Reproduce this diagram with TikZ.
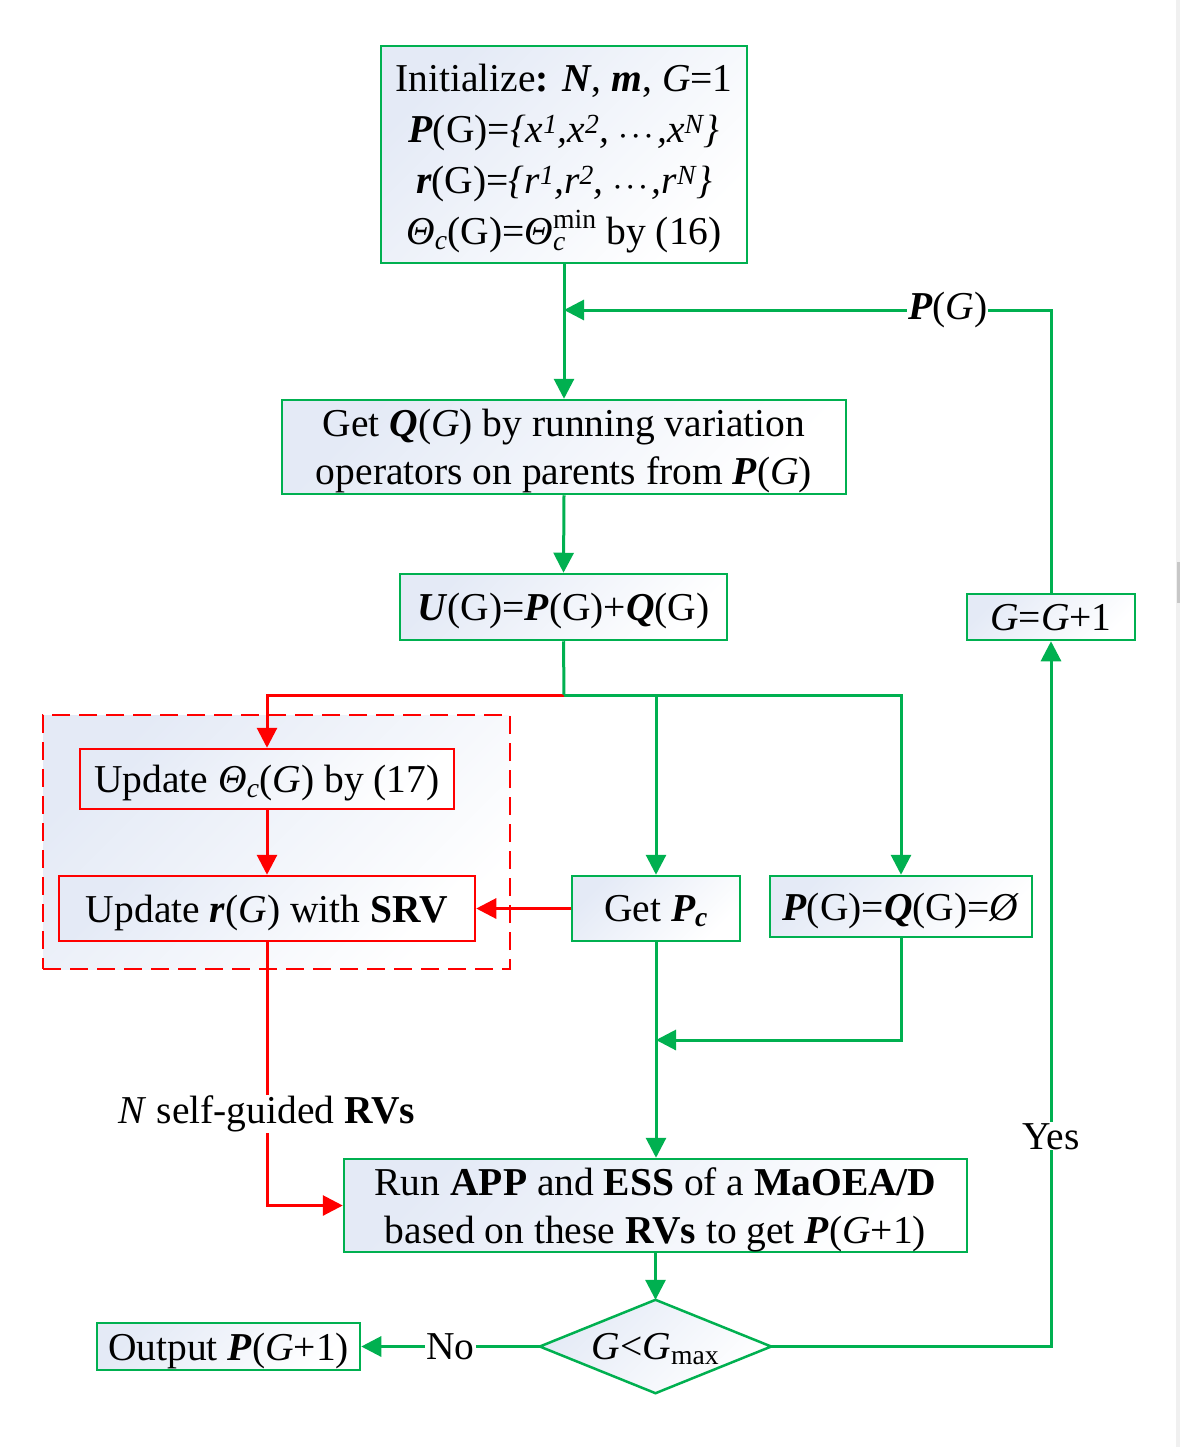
\documentclass[tikz,border=0pt]{standalone}
\usepackage{amsmath}
\usepackage{fontspec}
\setmainfont{Liberation Serif}
\usetikzlibrary{arrows.meta,shapes.geometric}
\definecolor{grn}{RGB}{0,176,80}
\definecolor{rd}{RGB}{255,0,0}
\definecolor{shb}{RGB}{228,234,246}
\newcommand{\bi}[1]{\textbf{\textit{#1}}}
\begin{document}
\begin{tikzpicture}[x=1pt,y=-1pt,
  font=\fontsize{39.5}{48}\selectfont,
  boxbase/.style={line width=2.5pt, shade, top color=shb, bottom color=white, shading angle=45, inner sep=0pt, align=center, text depth=0pt},
  gbox/.style={boxbase, draw=grn},
  rbox/.style={boxbase, draw=rd},
  garrow/.style={draw=grn, line width=3pt, -{Triangle[length=20pt,width=20pt]}},
  rarrow/.style={draw=rd, line width=3pt, -{Triangle[length=20pt,width=20pt]}},
  gline/.style={draw=grn, line width=3pt},
  lbl/.style={fill=white, inner sep=1pt}]
\useasboundingbox (0,0) rectangle (1180,1447);
\fill[white] (0,0) rectangle (1180,1447);
\fill[black!6] (1176,0) rectangle (1180,1447);
\fill[black!22] (1177,562) rectangle (1180,603);

% dashed group
\node[boxbase, draw=rd, dash pattern=on 18pt off 9pt, minimum width=467pt, minimum height=254pt] (grp) at (276.5,842) {};

% nodes
\node[gbox, minimum width=366pt, minimum height=217pt, font=\fontsize{39.5}{51}\selectfont] (init) at (564,154.5)
 {Initialize\textbf{:} \bi{N}, \bi{m}, \textit{G}=1\\
  \bi{P}(G)=\textit{\{x\textsuperscript{1},x\textsuperscript{2}, }{\boldmath$\cdots$}\textit{,x\textsuperscript{N}\}}\\
  \bi{r}(G)=\textit{\{r\textsuperscript{1},r\textsuperscript{2}, }{\boldmath$\cdots$}\textit{,r\textsuperscript{N}\}}\\
  \textit{Θ\textsubscript{c}}(G)=$\textit{Θ}^{\text{min}}_{\textit{c}}$ by (16)};
\node[gbox, minimum width=564pt, minimum height=94pt] (getq) at (564,447)
 {Get \bi{Q}(\textit{G}) by running variation\\ operators on parents from \bi{P}(\textit{G})};
\node[gbox, minimum width=327pt, minimum height=66pt] (ug) at (563.5,607)
 {\bi{U}(G)=\bi{P}(G)+\bi{Q}(G)};
\node[rbox, minimum width=374pt, minimum height=60pt] (upd1) at (267,779)
 {Update \textit{Θ\textsubscript{c}}(\textit{G}) by (17)};
\node[rbox, minimum width=416pt, minimum height=65pt] (updr) at (267,908.5)
 {Update \bi{r}(\textit{G}) with \textbf{SRV}};
\node[gbox, minimum width=168pt, minimum height=65pt] (getpc) at (656,908.5)
 {Get \bi{P\textsubscript{c}}};
\node[gbox, minimum width=262pt, minimum height=61pt] (pq) at (901,906.5)
 {\bi{P}(G)=\bi{Q}(G)=\textit{Ø}};
\node[gbox, minimum width=168pt, minimum height=46pt] (gg) at (1051,617)
 {\textit{G}=\textit{G}+1};
\node[gbox, minimum width=623pt, minimum height=93pt] (run) at (655.5,1205.5)
 {Run \textbf{APP} and \textbf{ESS} of a \textbf{MaOEA/D}\\ based on these \textbf{RVs} to get \bi{P}(\textit{G}+1)};
\node[inner sep=0pt, minimum width=231pt, minimum height=93pt] (dia) at (655.5,1346.5) {};
\path[boxbase, draw=grn] (dia.north) -- (dia.east) -- (dia.south) -- (dia.west) -- cycle;
\node[text depth=0pt] at (dia.center) {\textit{G}<\textit{G}\textsubscript{max}};
\node[gbox, minimum width=263pt, minimum height=47pt] (out) at (228.5,1346.5)
 {Output \bi{P}(\textit{G}+1)};

% connectors
\coordinate (split) at (564,695);
\coordinate (loop) at (564,310);
\coordinate (join) at (656,1040);
\draw[garrow] (init.south) -- (getq.north);
\draw[garrow] (getq.south) -- (ug.north);
\draw[rarrow] (split) -| (upd1.north);
\draw[gline] (ug.south) -- (split);
\draw[garrow] (split) -| (pq.north);
\draw[garrow] (getpc.north |- split) -- (getpc.north);
\draw[rarrow] (upd1.south) -- (updr.north);
\draw[rarrow] (getpc.west) -- (updr.east);
\draw[rarrow] (updr.south) |- (run.west) node[pos=0.326, lbl] {\textit{N} self-guided \textbf{RVs}};
\draw[garrow] (getpc.south) -- (getpc.south |- run.north);
\draw[garrow] (pq.south) |- (join);
\draw[garrow] (run.south) -- (dia.north);
\draw[garrow] (dia.west) -- (out.east) node[pos=0.5, lbl] {No};
\draw[garrow] (dia.east) -| (gg.south) node[pos=0.649, lbl] {Yes};
\draw[garrow] (gg.north) |- (loop) node[pos=0.606, lbl] {\bi{P}(\textit{G})};
\end{tikzpicture}
\end{document}
